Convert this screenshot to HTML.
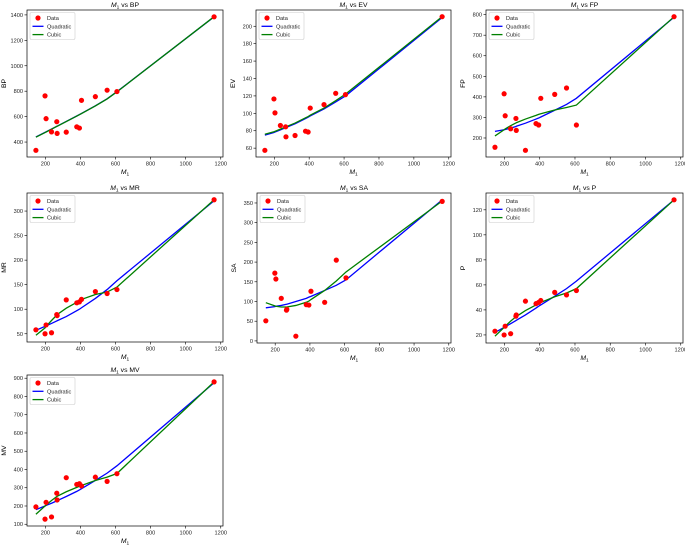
<!DOCTYPE html>
<html><head><meta charset="utf-8">
<style>
html,body{margin:0;padding:0;background:#fff;}
svg{display:block;font-family:"Liberation Sans","DejaVu Sans",sans-serif;}
</style></head>
<body>
<svg id="fig" width="685" height="545" viewBox="0 0 685 545" xmlns="http://www.w3.org/2000/svg"></svg>
<script>
const m1 = [146,198,204,235,265,267,319,379,394,406,485,552,608,1162];
const xTicks = [200,400,600,800,1000,1200];

const bpData = [335,763,584,480,560,468,478,520,510,728,757,808,797,1385];
const bpQuad = [440,476,480,502,524,525,562,605,616,625,685,740,796,1385];
const bpCubic = [438,475,479,501,523,524,561,604,615,624,684,739,795,1386];
const bpTicks = [400,600,800,1000,1200,1400];

const evData = [57.5,116.5,100.5,86,84.5,73,74.5,79.5,78.5,106,110,123,121.5,211];
const evQuad = [75,78,78.5,81,83.5,83.7,88,94,95.5,97,105,113,120,210];
const evCubic = [76,78.8,79.3,81.8,84.3,84.5,88.8,94.8,96.3,97.8,106,114.5,122,211];
const evTicks = [60,80,100,120,140,160,180,200];

const fpData = [155,415,308,245,295,237,140,270,263,393,412,443,263,790];
const fpQuad = [232,240,241,248,256,257,272,292,297,302,335,363,393,787];
const fpCubic = [210,240,244,260,273,274,292,310,315,318,336,348,360,790];
const fpTicks = [200,300,400,500,600,700,800];

const mrData = [58,50,68,52,89,87,119,113,115,120,136,132,140,323];
const mrQuad = [57,65,66,71,76,76.5,85,97,100,103,122,140,158,321];
const mrCubic = [47,62,65,77,88,89,102,114,117,120,130,135,145,323];
const mrTicks = [50,100,150,200,250,300];

const saData = [51,172,157,108,78,80,12,92,91,126,98,205,160,354];
const saQuad = [84,87,88,90,93,93,100,108,111,113,128,141,155,358];
const saCubic = [97,89,88,86,86,86,90,98,101,105,128,152,175,355];
const saTicks = [0,50,100,150,200,250,300,350];

const pData = [23,20,27,21,35,36,47,45,46,47.5,54,52,55.5,128];
const pQuad = [22,26,26.5,29,31.5,31.7,36,41.5,43,44,51,57,63,128];
const pCubic = [19,26,27,31,34.5,34.7,39.5,44,45,46,50.5,53.5,57,128];
const pTicks = [20,40,60,80,100,120];

const mvData = [195,128,220,140,270,233,355,318,322,310,358,335,377,880];
const mvQuad = [180,200,203,215,228,229,252,280,288,295,340,380,420,875];
const mvCubic = [155,200,205,230,252,253,278,302,308,312,340,358,378,880];
const mvTicks = [100,200,300,400,500,600,700,800,900];

const panels = [
 {name:'BP', box:[27,10,223,157], d:bpData, q:bpQuad, c:bpCubic, t:bpTicks},
 {name:'EV', box:[256,10,451,157], d:evData, q:evQuad, c:evCubic, t:evTicks},
 {name:'FP', box:[486,10,683,157], d:fpData, q:fpQuad, c:fpCubic, t:fpTicks},
 {name:'MR', box:[27,193,223,342], d:mrData, q:mrQuad, c:mrCubic, t:mrTicks},
 {name:'SA', box:[257,193,451,343], d:saData, q:saQuad, c:saCubic, t:saTicks},
 {name:'P', box:[486,193,683,343], d:pData, q:pQuad, c:pCubic, t:pTicks},
 {name:'MV', box:[27,375,223,526], d:mvData, q:mvQuad, c:mvCubic, t:mvTicks}
];
const NS='http://www.w3.org/2000/svg';
const fig=document.getElementById('fig');
function mk(tag,attrs,parent){const e=document.createElementNS(NS,tag);for(const k in attrs)e.setAttribute(k,attrs[k]);(parent||fig).appendChild(e);return e;}

panels.forEach(p=>{
  const [L,T,R,B]=p.box;
  const lo=p.name.toLowerCase();
  const g=mk('g',{});
  
  
  const xmin=Math.min(...m1), xmax=Math.max(...m1), xp=(xmax-xmin)*0.05;
  const all=p.d.concat(p.q,p.c);
  const ymin=Math.min(...all), ymax=Math.max(...all), yp=(ymax-ymin)*0.05;
  const sx=v=>L+(v-(xmin-xp))/((xmax+xp)-(xmin-xp))*(R-L);
  const sy=v=>B-(v-(ymin-yp))/((ymax+yp)-(ymin-yp))*(B-T);
  // x ticks
  xTicks.forEach(t=>{const x=sx(t); if(x<L-0.5||x>R+0.5)return;
    const l=mk('line',{x1:x,x2:x,y1:B,y2:B+2.5,stroke:'#000','stroke-width':0.6},g);
    
    
    const tx=mk('text',{x:x,y:B+8.5,'font-size':5.6,'text-anchor':'middle',fill:'#222'},g);
    tx.textContent=t;
    
    
  });
  p.t.forEach(t=>{const y=sy(t); if(y<T-0.5||y>B+0.5)return;
    const l=mk('line',{x1:L-2.5,x2:L,y1:y,y2:y,stroke:'#000','stroke-width':0.6},g);
    
    
    const tx=mk('text',{x:L-4,y:y+2,'font-size':5.6,'text-anchor':'end',fill:'#222'},g);
    tx.textContent=t;
    
    
  });
  const pts=arr=>m1.map((x,i)=>sx(x).toFixed(2)+','+sy(arr[i]).toFixed(2)).join(' ');
  const ql=mk('polyline',{points:pts(p.q),fill:'none',stroke:'#0000ff','stroke-width':1.3},g);
  
  
  const cl=mk('polyline',{points:pts(p.c),fill:'none',stroke:'#008000','stroke-width':1.3},g);
  
  
  m1.forEach((x,i)=>{const c=mk('circle',{cx:sx(x),cy:sy(p.d[i]),r:2.6,fill:'#ff0000'},g);
    
    
  });
  const fr=mk('rect',{x:L,y:T,width:R-L,height:B-T,fill:'none',stroke:'#000','stroke-width':0.7},g);
  
  
  // title
  const ti=mk('text',{x:(L+R)/2,y:T-3,'font-size':6.8,'text-anchor':'middle',fill:'#000'},g);
  ti.innerHTML='<tspan font-style="italic">M</tspan><tspan font-size="4.8" dy="1.5">1</tspan><tspan dy="-1.5"> vs '+p.name+'</tspan>';
  
  
  const xl=mk('text',{x:(L+R)/2,y:B+17,'font-size':6.8,'text-anchor':'middle',fill:'#000'},g);
  xl.innerHTML='<tspan font-style="italic">M</tspan><tspan font-size="4.8" dy="1.5">1</tspan>';
  
  
  const yx=L-21, yy=(T+B)/2;
  const yl=mk('text',{x:yx,y:yy,'font-size':6.8,'text-anchor':'middle',fill:'#000',transform:'rotate(-90 '+yx+' '+yy+')'},g);
  yl.textContent=p.name;
  
  
  // legend
  const lg=mk('g',{},g);
  
  
  mk('rect',{x:L+3,y:T+2.5,width:45,height:27,fill:'#fff',stroke:'#ccc','stroke-width':0.6,rx:1.5},lg);
  const rows=[['Data','dot','#ff0000'],['Quadratic','line','#0000ff'],['Cubic','line','#008000']];
  rows.forEach((r,i)=>{const cy=T+8+i*8.3;
    const e=mk('g',{},lg);
    
    
    if(r[1]==='dot') mk('circle',{cx:L+11,cy:cy,r:2.6,fill:r[2]},e);
    else mk('line',{x1:L+5.5,x2:L+16.5,y1:cy,y2:cy,stroke:r[2],'stroke-width':1.3},e);
    const t=mk('text',{x:L+20,y:cy+2,'font-size':5.6,fill:'#222'},e); t.textContent=r[0];
  });
});
</script>
</body></html>
